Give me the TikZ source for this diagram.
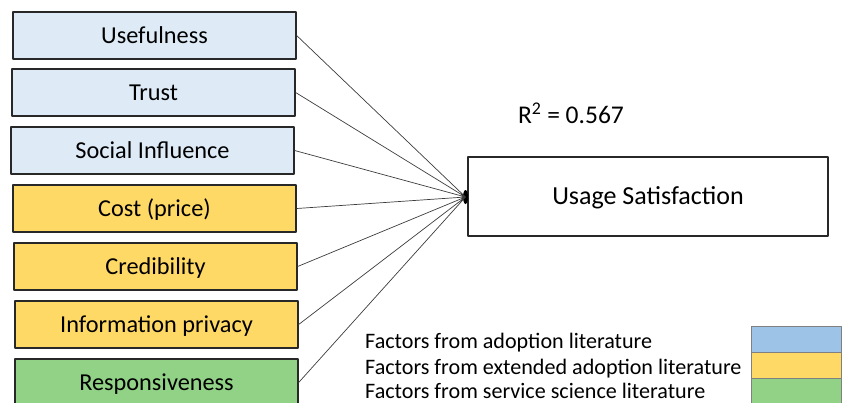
\documentclass[tikz,border=0pt]{standalone}
\usepackage{fontspec}
\setmainfont{Carlito}
\usetikzlibrary{shapes.geometric}
\definecolor{boxblue}{RGB}{222,235,247}
\definecolor{boxyellow}{RGB}{255,217,102}
\definecolor{boxgreen}{RGB}{146,210,134}
\definecolor{legblue}{RGB}{157,195,230}
\definecolor{boxline}{RGB}{40,40,40}
\definecolor{linegray}{RGB}{60,60,60}
\tikzset{
  factor/.style={draw=boxline, line width=1.3pt, minimum width=283pt, minimum height=47pt,
    inner sep=0pt, text height=15.5pt, text depth=0pt, font=\fontsize{24.3}{29}\selectfont},
  link/.style={draw=linegray, line width=0.7pt},
  swatch/.style={draw=gray, line width=0.6pt, minimum width=90pt, minimum height=26pt, inner sep=0pt},
  legtext/.style={anchor=west, inner sep=0pt, text height=14pt, text depth=0pt,
    font=\fontsize{22.1}{26}\selectfont}
}
\begin{document}
\begin{tikzpicture}[x=1pt, y=-1pt, line join=round, line cap=round]
\useasboundingbox (0,0) rectangle (843,402);
\clip (0,0) rectangle (843,402);
% factors
\node[factor, fill=boxblue] (usefulness) at (154.5,35.5) {Usefulness};
\node[factor, fill=boxblue] (trust) at (153.5,92.5) {Trust};
\node[factor, fill=boxblue] (social) at (152.5,150.5) {Social Influence};
\node[factor, fill=boxyellow] (cost) at (154.5,208.5) {Cost (price)};
\node[factor, fill=boxyellow] (credibility) at (155.5,266.5) {Credibility};
\node[factor, fill=boxyellow] (privacy) at (156.5,324.5) {Information privacy};
\node[factor, fill=boxgreen] (responsiveness) at (156.5,382.5) {Responsiveness};
% outcome
\node[draw=boxline, line width=1.3pt, minimum width=360pt, minimum height=79pt,
  text height=16.5pt, text depth=0pt,
  font=\fontsize{26}{31}\selectfont] (satisfaction) at (648,196.5) {Usage Satisfaction};
\node[font=\fontsize{25.5}{30}\selectfont] (rsq) at (571,113) {R\textsuperscript{2} = 0.567};
\node[ellipse, fill=black, minimum width=5pt, minimum height=14pt, inner sep=0pt] (hub) at (465.5,197) {};
\draw[link] (usefulness.east) -- (hub.center)
  (trust.east) -- (hub.center)
  (social.east) -- (hub.center)
  (cost.east) -- (hub.center)
  (credibility.east) -- (hub.center)
  (privacy.east) -- (hub.center)
  (responsiveness.east) -- (hub.center);
% legend
\node[legtext] (lega) at (365,341) {Factors from adoption literature};
\node[legtext] (legb) at (365,367) {Factors from extended adoption literature};
\node[legtext] (legc) at (365,391) {Factors from service science literature};
\node[swatch, fill=legblue] (swa) at (796,339.5) {};
\node[swatch, fill=boxyellow] (swb) at (796,365.5) {};
\node[swatch, fill=boxgreen] (swc) at (796,391.5) {};
\end{tikzpicture}
\end{document}
